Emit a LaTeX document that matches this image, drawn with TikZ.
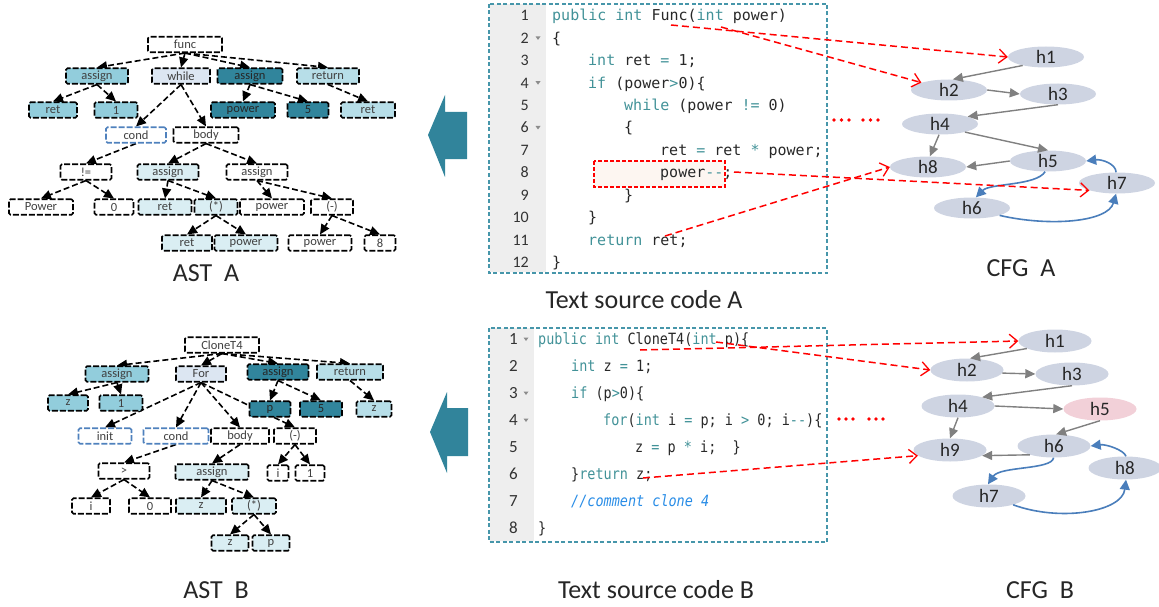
\documentclass[tikz,border=0pt]{standalone}
\usepackage{fontspec}
\setmainfont{Carlito}
\newfontfamily\monoA{DejaVu Sans Mono}
\newfontfamily\monoB[FakeStretch=0.87]{DejaVu Sans Mono}
\usetikzlibrary{shapes.geometric,arrows.meta}
\pgfdeclarelayer{bg}
\pgfsetlayers{bg,main}

\definecolor{astmid}{RGB}{146,205,220}
\definecolor{astdark}{RGB}{49,133,156}
\definecolor{astlight}{RGB}{183,222,232}
\definecolor{astpale}{RGB}{218,238,243}
\definecolor{astlav}{RGB}{220,230,242}
\definecolor{condblue}{RGB}{79,129,189}
\definecolor{kwcol}{RGB}{66,146,152}
\definecolor{codetxt}{RGB}{40,40,40}
\definecolor{cmtcol}{RGB}{40,140,230}
\definecolor{guttercol}{RGB}{238,238,238}
\definecolor{framecol}{RGB}{70,150,170}
\definecolor{hlcol}{RGB}{253,246,241}
\definecolor{cfgfill}{RGB}{206,212,226}
\definecolor{cfgpink}{RGB}{242,208,216}
\definecolor{cfggray}{RGB}{128,128,128}
\definecolor{cfgblue}{RGB}{74,126,187}
\definecolor{bigarrow}{RGB}{49,132,155}

\newcommand\kwd[1]{\textcolor{kwcol}{#1}}

\begin{document}
\begin{tikzpicture}[x=1pt,y=-1pt,
  astbox/.style={draw=black, dash pattern=on 6pt off 2pt, line width=1.6pt,
    rounded corners=1.5pt, minimum height=15.5pt, inner sep=0pt,
    font=\fontsize{12.5}{13}\selectfont, text=black!75},
  condbox/.style={astbox, draw=condblue},
  astedge/.style={line width=1.6pt, dash pattern=on 6pt off 3pt,
    -{Triangle[length=10pt,width=9pt]}},
  cfgA/.style={ellipse, fill=cfgfill, minimum width=76pt, minimum height=21pt,
    inner sep=0pt, font=\fontsize{19}{20}\selectfont, text=black!85},
  cfgB/.style={cfgA, minimum width=73pt, minimum height=23pt},
  grayedge/.style={draw=cfggray, line width=1.4pt, -{Triangle[length=10pt,width=9pt]}},
  blueedge/.style={draw=cfgblue, line width=1.6pt, -{Triangle[length=10pt,width=10pt]}},
  redlink/.style={draw=red, line width=1.5pt, dash pattern=on 7pt off 4pt,
    -{Straight Barb[length=8pt,width=14pt,line width=1.3pt]}},
  codeA/.style={anchor=base west, inner sep=0pt, font=\monoA\fontsize{15}{18}\selectfont, text=codetxt},
  codeB/.style={anchor=base west, inner sep=0pt, font=\monoB\fontsize{15.5}{18}\selectfont, text=codetxt},
  lnA/.style={anchor=base east, inner sep=0pt, font=\fontsize{16}{18}\selectfont, text=black!80},
  lnB/.style={anchor=base east, inner sep=0pt, font=\fontsize{17}{18}\selectfont, text=black!80},
  lbl/.style={inner sep=0pt, font=\fontsize{26}{28}\selectfont, text=black!85}
]
\useasboundingbox (0,0) rectangle (1159,607);

% ---------------- AST A ----------------
\node[astbox, fill=white, minimum width=74pt] (funcA) at (185,44.5) {func};
\node[astbox, fill=astmid, minimum width=62pt] (asA1) at (97,76) {assign};
\node[astbox, fill=astlav, minimum width=58pt] (whA) at (181,76) {while};
\node[astbox, fill=astdark, minimum width=65pt, text=black!85] (asA2) at (250,76) {assign};
\node[astbox, fill=astlight, minimum width=62pt] (rtA) at (328,76) {return};
\node[astbox, fill=astmid, minimum width=48pt] (retA1) at (53,110) {ret};
\node[astbox, fill=astmid, minimum width=43pt] (oneA) at (116,110) {1};
\node[astbox, fill=astdark, minimum width=64pt, text=black!85] (powA1) at (243,110) {power};
\node[astbox, fill=astdark, minimum width=41pt, text=black!85] (fiveA) at (308,110) {5};
\node[astbox, fill=astlight, minimum width=54pt] (retA2) at (368,110) {ret};
\node[condbox, fill=white, minimum width=60pt] (condA) at (136,135) {cond};
\node[astbox, fill=white, minimum width=65pt] (bodyA) at (206,135) {body};
\node[astbox, fill=white, minimum width=51pt] (neqA) at (86,172) {!=};
\node[astbox, fill=astpale, minimum width=61pt] (asA3) at (168,172) {assign};
\node[astbox, fill=white, minimum width=61pt] (asA4) at (257,172) {assign};
\node[astbox, fill=white, minimum width=64pt] (PowA) at (41,207) {Power};
\node[astbox, fill=white, minimum width=39pt] (zeroA) at (114,207) {0};
\node[astbox, fill=astpale, minimum width=53pt] (retA3) at (165,207) {ret};
\node[astbox, fill=astpale, minimum width=43pt] (starA) at (216,207) {(*)};
\node[astbox, fill=white, minimum width=64pt] (powA2) at (272,207) {power};
\node[astbox, fill=white, minimum width=42pt] (minA) at (332,207) {(-)};
\node[astbox, fill=astpale, minimum width=50pt] (retA4) at (187,243) {ret};
\node[astbox, fill=astpale, minimum width=63pt] (powA3) at (246,243) {power};
\node[astbox, fill=white, minimum width=63pt] (powA4) at (320,243) {power};
\node[astbox, fill=white, minimum width=31pt] (eightA) at (380,243) {8};

\begin{pgfonlayer}{bg}
\foreach \p/\c in {funcA/asA1, funcA/whA, funcA/asA2, funcA/rtA,
  asA1/retA1, asA1/oneA, whA/condA, whA/bodyA, asA2/powA1, asA2/fiveA,
  rtA/retA2, condA/neqA, neqA/PowA, neqA/zeroA, bodyA/asA3, bodyA/asA4,
  asA3/retA3, asA3/starA, asA4/powA2, asA4/minA, starA/retA4, starA/powA3,
  minA/powA4, minA/eightA}
  \draw[astedge] (\p.south) -- (\c.north);
\end{pgfonlayer}

% ---------------- AST B ----------------
\node[astbox, fill=white, minimum width=74pt] (cloneB) at (222,345) {CloneT4};
\node[astbox, fill=astmid, minimum width=63pt] (asB1) at (117,374) {assign};
\node[astbox, fill=astlav, minimum width=50pt] (forB) at (201,374) {For};
\node[astbox, fill=astdark, minimum width=61pt, text=black!85] (asB2) at (278,372) {assign};
\node[astbox, fill=astlight, minimum width=66pt] (rtB) at (350,372) {return};
\node[astbox, fill=astmid, minimum width=40pt] (zB1) at (68,403) {z};
\node[astbox, fill=astmid, minimum width=43pt] (oneB) at (121,403) {1};
\node[astbox, fill=astdark, minimum width=41pt, text=black!85] (pB1) at (270,409) {p};
\node[astbox, fill=astdark, minimum width=42pt, text=black!85] (fiveB) at (321,409) {5};
\node[astbox, fill=astlight, minimum width=35pt] (zB2) at (374,409) {z};
\node[condbox, fill=white, minimum width=53pt] (initB) at (105,436) {init};
\node[condbox, fill=white, minimum width=65pt] (condB) at (176,436) {cond};
\node[astbox, fill=white, minimum width=58pt] (bodyB) at (240,436) {body};
\node[astbox, fill=white, minimum width=42pt] (minB) at (295,436) {(-)};
\node[astbox, fill=white, minimum width=51pt] (gtB) at (124,471) {>};
\node[astbox, fill=astpale, minimum width=73pt] (asB3) at (212,472) {assign};
\node[astbox, fill=white, minimum width=21pt] (iB1) at (278,473) {i};
\node[astbox, fill=white, minimum width=29pt] (oneB2) at (310,473) {1};
\node[astbox, fill=white, minimum width=38pt] (iB2) at (91,506) {i};
\node[astbox, fill=white, minimum width=42pt] (zeroB) at (150,506) {0};
\node[astbox, fill=astpale, minimum width=50pt] (zB3) at (201,506) {z};
\node[astbox, fill=astpale, minimum width=44pt] (starB) at (254,506) {(*)};
\node[astbox, fill=astpale, minimum width=37pt] (zB4) at (230,543) {z};
\node[astbox, fill=astpale, minimum width=37pt] (pB2) at (271,543) {p};

\begin{pgfonlayer}{bg}
\foreach \p/\c in {cloneB/asB1, cloneB/forB, cloneB/asB2, cloneB/rtB,
  asB1/zB1, asB1/oneB, forB/initB, forB/condB, forB/bodyB, forB/minB,
  asB2/pB1, asB2/fiveB, rtB/zB2, condB/gtB, gtB/iB2, gtB/zeroB,
  bodyB/asB3, asB3/zB3, asB3/starB, starB/zB4, starB/pB2, minB/iB1, minB/oneB2}
  \draw[astedge] (\p.south) -- (\c.north);
\end{pgfonlayer}

% ---------------- big arrows ----------------
\fill[bigarrow] (428,135) -- (445,95) -- (445,112) -- (467,112) -- (467,159)
  -- (445,159) -- (445,177) -- cycle;
\fill[bigarrow] (430,432) -- (447,392) -- (447,408) -- (468,408) -- (468,456)
  -- (447,456) -- (447,473) -- cycle;

% ---------------- source code A ----------------
\fill[guttercol] (490,4) rectangle (546,272);
\foreach \i in {1,...,12}
  \node[lnA] (nA\i) at (529,{21+22.4*(\i-1)}) {\i};
\foreach \i in {2,4,6}
  \fill[black!45] (535.5,{15.5+22.4*(\i-1)-1.5}) -- ++(5,0) -- ++(-2.5,3.5) -- cycle;
\draw[red, line width=1.2pt, dash pattern=on 4pt off 2pt, fill=hlcol] (594,161) rectangle (725,187);

\node[codeA] (cA1) at (552,21.0) {\kwd{public} \kwd{int} Func(\kwd{int} power)};
\node[codeA] (cA2) at (552,43.4) {\{};
\node[codeA] (cA3) at (588,65.8) {\kwd{int} ret \kwd{=} 1;};
\node[codeA] (cA4) at (588,88.2) {\kwd{if} (power\kwd{>}0)\{};
\node[codeA] (cA5) at (624,110.6) {\kwd{while} (power \kwd{!=} 0)};
\node[codeA] (cA6) at (624,133.0) {\{};
\node[codeA] (cA7) at (660,155.4) {ret \kwd{=} ret \kwd{*} power;};
\node[codeA] (cA8) at (660,177.8) {power\kwd{-{}-};};
\node[codeA] (cA9) at (624,200.2) {\}};
\node[codeA] (cA10) at (588,222.6) {\}};
\node[codeA] (cA11) at (588,245.0) {\kwd{return} ret;};
\node[codeA] (cA12) at (552,267.4) {\}};
\draw[framecol, line width=1.2pt, dash pattern=on 4pt off 2.5pt] (489,4) rectangle (827,273);
\node[lbl] (txtA) at (644,300) {Text source code A};

% ---------------- source code B ----------------
\fill[guttercol] (490,328) rectangle (534,541);
\foreach \i in {1,...,8}
  \node[lnB] (nB\i) at (518,{344.5+27*(\i-1)}) {\i};
\foreach \i in {1,3,4}
  \fill[black!45] (523.5,{339+27*(\i-1)-1.5}) -- ++(5,0) -- ++(-2.5,3.5) -- cycle;
\node[codeB] (cB1) at (538,344.5) {\kwd{public} \kwd{int} CloneT4(\kwd{int} p)\{};
\node[codeB] (cB2) at (571,371.5) {\kwd{int} z \kwd{=} 1;};
\node[codeB] (cB3) at (571,398.5) {\kwd{if} (p\kwd{>}0)\{};
\node[codeB] (cB4) at (603,425.5) {\kwd{for}(\kwd{int} i \kwd{=} p; i \kwd{>} 0; i\kwd{-{}-})\{};
\node[codeB] (cB5) at (635,452.5) {z \kwd{=} p \kwd{*} i;\ \ \}};
\node[codeB] (cB6) at (571,479.5) {\}\kwd{return} z;};
\node[codeB, text=cmtcol] (cB7) at (571,506.5) {\itshape //comment clone 4};
\node[codeB] (cB8) at (538,533.5) {\}};
\draw[framecol, line width=1.2pt, dash pattern=on 4pt off 2.5pt] (489,328) rectangle (827,542);
\node[lbl] (txtB) at (656,590) {Text source code B};

% ---------------- CFG A ----------------
\node[cfgA] (h1A) at (1046,57) {h1};
\node[cfgA] (h2A) at (949,90) {h2};
\node[cfgA] (h3A) at (1058,94) {h3};
\node[cfgA] (h4A) at (940,124) {h4};
\node[cfgA] (h5A) at (1048,161) {h5};
\node[cfgA] (h8A) at (928,167) {h8};
\node[cfgA] (h7A) at (1117,183) {h7};
\node[cfgA] (h6A) at (972,208) {h6};
\draw[grayedge] (h1A.200) -- (h2A.70);
\draw[grayedge] (h2A.east) -- (h3A.west);
\draw[grayedge] (h3A.south) -- (h4A.15);
\draw[grayedge] (h4A.265) -- (h8A.80);
\draw[grayedge] (h4A.-18) -- (h5A.north);
\draw[grayedge] (h5A.west) -- (h8A.east);
\draw[blueedge] (h5A.255) .. controls (1036,186) and (990,183) .. (h6A.70);
\draw[blueedge] (h6A.-15) .. controls (1050,227) and (1108,222) .. (h7A.265);
\draw[blueedge] (h7A.95) .. controls (1116,164) and (1102,159) .. (h5A.east);
\node[lbl] (cfgAl) at (1021,268) {CFG\ \ A};
% elision marks between code and graph
\foreach \x in {834,841.5,849,863,870.5,878}
  \fill[red] (\x,120) circle (1.8pt);

% ---------------- CFG B ----------------
\node[cfgB] (h1B) at (1055,341) {h1};
\node[cfgB] (h2B) at (967,370) {h2};
\node[cfgB] (h3B) at (1072,374) {h3};
\node[cfgB] (h4B) at (958,406) {h4};
\node[cfgB, fill=cfgpink] (h5B) at (1100,409) {h5};
\node[cfgB] (h9B) at (950,450) {h9};
\node[cfgB] (h6B) at (1054,446) {h6};
\node[cfgB] (h8B) at (1125,468) {h8};
\node[cfgB] (h7B) at (989,496) {h7};
\draw[grayedge] (h1B.195) -- (h2B.75);
\draw[grayedge] (h2B.-5) -- (h3B.west);
\draw[grayedge] (h3B.south) -- (h4B.20);
\draw[grayedge] (h4B.east) -- (h5B.west);
\draw[grayedge] (h4B.south) -- (h9B.north);
\draw[grayedge] (h5B.south) -- (h6B.80);
\draw[grayedge] (h6B.200) -- (h9B.-10);
\draw[blueedge] (h6B.268) .. controls (1052,470) and (1000,466) .. (h7B.95);
\draw[blueedge] (h7B.-20) .. controls (1060,522) and (1122,512) .. (h8B.275);
\draw[blueedge] (h8B.85) .. controls (1124,450) and (1106,444) .. (h6B.east);
\node[lbl] (cfgBl) at (1040,590) {CFG\ \ B};
\foreach \x in {839,846,853,869,876,883}
  \fill[red] (\x,419) circle (1.8pt);

% ---------------- labels ----------------
\node[lbl] (astAl) at (206,273) {AST\ \ A};
\node[lbl] (astBl) at (216,590) {AST\ \ B};

% ---------------- code to CFG links ----------------
\coordinate (sA1) at (671,25);
\coordinate (sA2) at (721,27);
\coordinate (sA3) at (734,172);
\coordinate (sA4) at (665,236);
\draw[redlink] (sA1) -- (h1A.west);
\draw[redlink] (sA2) -- (h2A.165);
\draw[redlink] (sA3) -- (h7A.195);
\draw[redlink] (sA4) -- (h8A.west);
\coordinate (sB1) at (640,350);
\coordinate (sB2) at (716,342);
\coordinate (sB3) at (643,478);
\draw[redlink] (sB1) -- (h1B.west);
\draw[redlink] (sB2) -- (h2B.west);
\draw[redlink] (sB3) -- (h9B.190);
\end{tikzpicture}
\end{document}
